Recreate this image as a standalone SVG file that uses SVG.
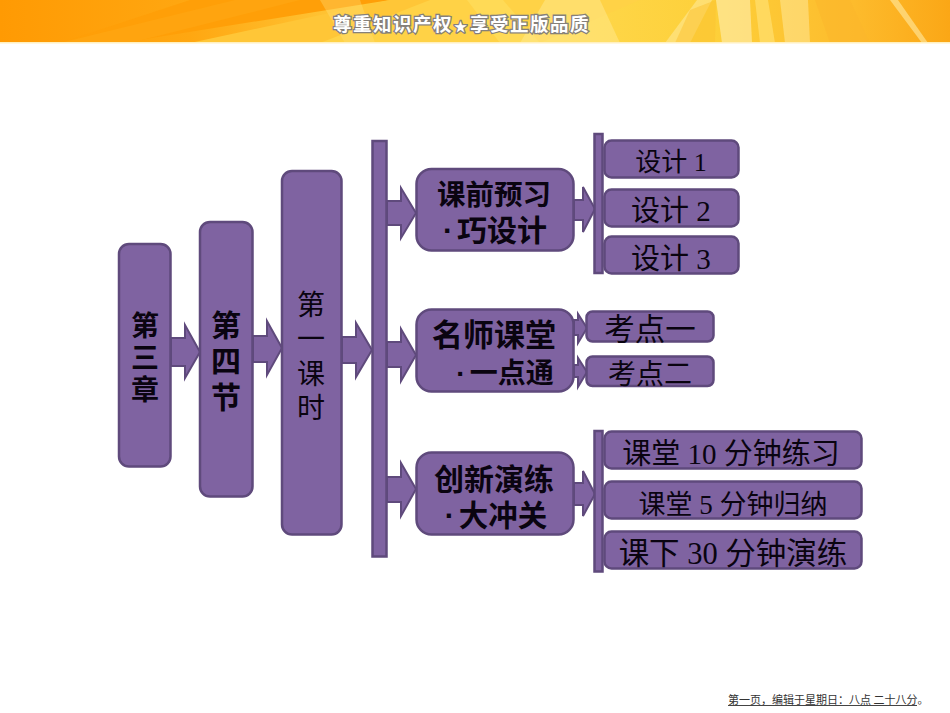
<svg xmlns="http://www.w3.org/2000/svg" width="950" height="713" viewBox="0 0 950 713">
<style>
.n{fill:#7f63a1;stroke:#5f4a7c;stroke-width:2.5}
.a{fill:#7f63a1;stroke:#5f4a7c;stroke-width:2;stroke-linejoin:miter}
text{font-family:"Liberation Serif","Noto Sans CJK SC",sans-serif;fill:#0a0410;text-anchor:middle}
.b{font-family:"Liberation Sans","Noto Sans CJK SC",sans-serif;font-weight:700}
.banner{font-family:"Noto Sans CJK SC",sans-serif;font-weight:700;font-size:18.500px;fill:#fff;stroke:#85807a;stroke-width:2.6;paint-order:stroke;text-anchor:start;letter-spacing:1.500px}
.star{font-size:13px;letter-spacing:3px}
.foot{font-family:"Noto Sans CJK SC",sans-serif;font-size:11px;fill:#333;text-anchor:start}
</style>
<defs>
<linearGradient id="bg" x1="0" x2="1" y1="0" y2="0">
<stop offset="0" stop-color="#ff9a03"/><stop offset=".2" stop-color="#ffa711"/><stop offset=".34" stop-color="#ffc232"/><stop offset=".55" stop-color="#ffda50"/><stop offset=".75" stop-color="#fdd03a"/><stop offset=".9" stop-color="#fdbb2c"/><stop offset="1" stop-color="#fba716"/>
</linearGradient>
</defs>
<g id="banner">
<rect width="950" height="43" fill="url(#bg)"/>
<polygon points="190,0 310,0 390,0 120,43 60,43" fill="#ff9f08"/>
<polygon points="60,43 235,0 300,0 130,43" fill="#ffa40f"/>
<polygon points="190,43 390,0 560,0 420,43" fill="#ffc637"/>
<polygon points="320,43 430,0 640,0 540,43" fill="#ffd246"/>
<polygon points="320,0 345,43 375,43 360,0" fill="#ffe27a" opacity=".35"/>
<polygon points="467,0 500,43 540,43 503,0" fill="#ffe060" opacity=".6"/>
<polygon points="545,0 520,43 620,43 600,0" fill="#ffe98f" opacity=".5"/>
<polygon points="697,0 665,43 690,43 712,0" fill="#fff0b4" opacity=".45"/>
<polygon points="690,10 675,43 715,43 716,0" fill="#fbc130" opacity=".5"/>
<polygon points="716,0 722,43 752,43 750,0" fill="#fff3c0" opacity=".55"/>
<polygon points="755,0 760,43 775,43 768,0" fill="#ffdf70" opacity=".7"/>
<polygon points="780,0 785,43 810,43 808,0" fill="#fff0b0" opacity=".45"/>
<polygon points="815,0 830,43 870,43 850,0" fill="#fbb62b" opacity=".55"/>
<polygon points="890,0 922,43 928,43 898,0" fill="#fff0b0" opacity=".55"/>
<rect y="42" width="950" height="1.5" fill="#fff0c0"/>
<text class="banner" x="333" y="31">尊重知识产权<tspan class="star" dx="1">★</tspan><tspan>享受正版品质</tspan></text>
</g>
<g id="connectors">
<path class="a" d="M171 338H185V325L200 352L185 378V366H171Z"/>
<path class="a" d="M253 336H267V321L282 348L267 375V362H253Z"/>
<path class="a" d="M342 337H356V323L372 350L356 377V363H342Z"/>
<path class="a" d="M387 201H401V188L416 213L401 238V225H387Z"/>
<path class="a" d="M387 342H401V329L416 355L401 381V367H387Z"/>
<path class="a" d="M387 477H401V463L416 489L401 516V502H387Z"/>
<path class="a" d="M574 200H583V187L595 209L583 232V220H574Z"/>
<path class="a" d="M574 320H578V314L587 328L578 343V335H574Z"/>
<path class="a" d="M574 365H578V358L587 372L578 387V377H574Z"/>
<path class="a" d="M574 483H583V471L595 494L583 516V505H574Z"/>
</g>
<g id="bar-main"><rect class="n" x="372.500" y="141" width="14" height="415.500"/></g>
<g id="bar-1"><rect class="n" x="594.500" y="134" width="8" height="139"/></g>
<g id="bar-3"><rect class="n" x="594.500" y="431" width="8" height="140.500"/></g>
<g id="n-ch3"><rect class="n" x="119" y="244" width="51.500" height="222.500" rx="10"/>
<text class="b" font-size="28" x="145"><tspan x="145" y="336">第</tspan><tspan x="145" y="368">三</tspan><tspan x="145" y="400">章</tspan></text></g>
<g id="n-sec4"><rect class="n" x="200" y="222" width="52.500" height="274.500" rx="10"/>
<text class="b" font-size="30" x="226"><tspan x="226" y="336">第</tspan><tspan x="226" y="372">四</tspan><tspan x="226" y="408">节</tspan></text></g>
<g id="n-lesson1"><rect class="n" x="282" y="171" width="59.500" height="363.500" rx="10"/>
<text font-size="28" x="311"><tspan x="311" y="315">第</tspan><tspan x="311" y="349">一</tspan><tspan x="311" y="384">课</tspan><tspan x="311" y="418">时</tspan></text></g>
<g id="n-pre"><rect class="n" x="416.500" y="169" width="157" height="81.500" rx="15"/>
<text class="b" font-size="28.500" x="494" y="205">课前预习</text><text class="b" font-size="30" x="495" y="241">·<tspan dx="4">巧设计</tspan></text></g>
<g id="n-class"><rect class="n" x="416.500" y="309.500" width="157" height="82" rx="15"/>
<text class="b" font-size="31" x="494" y="346">名师课堂</text><text class="b" font-size="28" x="505" y="383">·<tspan dx="4">一点通</tspan></text></g>
<g id="n-drill"><rect class="n" x="416.500" y="452.500" width="157" height="82" rx="15"/>
<text class="b" font-size="30" x="494" y="490">创新演练</text><text class="b" font-size="29.500" x="496" y="526">·<tspan dx="4">大冲关</tspan></text></g>
<g id="n-d1"><rect class="n" x="604.500" y="140.500" width="134" height="37" rx="7"/><text font-size="26" x="671" y="171">设计 1</text></g>
<g id="n-d2"><rect class="n" x="604.500" y="189.500" width="134" height="37" rx="7"/><text font-size="29" x="671" y="221">设计 2</text></g>
<g id="n-d3"><rect class="n" x="604.500" y="236.500" width="134" height="37" rx="7"/><text font-size="29" x="671" y="269">设计 3</text></g>
<g id="n-k1"><rect class="n" x="586.500" y="311.500" width="127" height="30" rx="6"/><text font-size="30.500" x="650" y="340">考点一</text></g>
<g id="n-k2"><rect class="n" x="586.500" y="356.500" width="127" height="29.500" rx="6"/><text font-size="28" x="650" y="384">考点二</text></g>
<g id="n-e1"><rect class="n" x="604.500" y="431.500" width="257" height="37" rx="7"/><text font-size="29" x="731" y="464">课堂 10 分钟练习</text></g>
<g id="n-e2"><rect class="n" x="604.500" y="481.500" width="257" height="37" rx="7"/><text font-size="27" x="733" y="514">课堂 5 分钟归纳</text></g>
<g id="n-e3"><rect class="n" x="604.500" y="531.500" width="257" height="37" rx="7"/><text font-size="30.500" x="733" y="564">课下 30 分钟演练</text></g>
<g id="footer"><text class="foot" x="728" y="704">第一页，编辑于星期日：八点 二十八分。</text><rect x="728" y="705" width="189" height="1" fill="#444"/></g>
</svg>
